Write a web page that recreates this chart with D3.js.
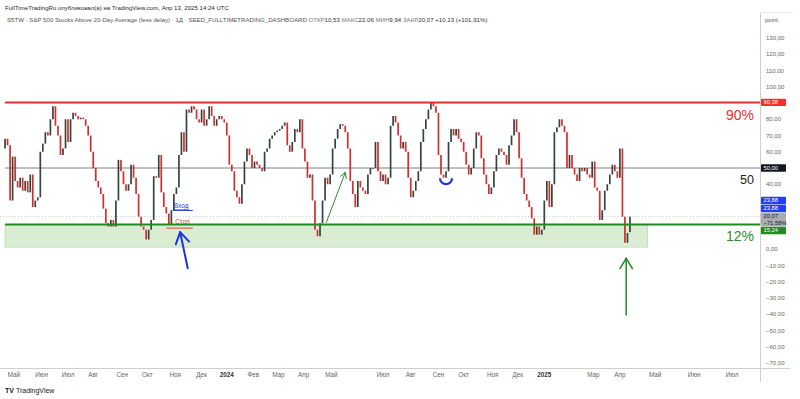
<!DOCTYPE html>
<html><head><meta charset="utf-8">
<script src="https://cdn.jsdelivr.net/npm/d3@7"></script>
<style>html,body{margin:0;padding:0;background:#fff;}svg{display:block;font-family:"Liberation Sans",Arial,sans-serif;}</style>
</head><body>
<svg id="c" width="800" height="399"></svg>
<script>
// ---- data (each bar = 2 trading sessions, last bar = 2025-04-11) ----
const barCloses = [
 68,64,30,57,42,38,44,36,42,35,46,
 26,30,32,60,65,72,70,80,88,76,70,58,62,80,66,80,84,82,80,81,80,76,70,60,50,42,38,34,
 25,16,14,18,14,30,55,48,40,36,40,52,44,34,20,14,12,6,12,18,45,44,58,35,26,22,15,24,34,38,58,72,
 60,86,84,88,86,80,78,86,76,80,88,82,76,80,82,80,78,70,52,48,36,32,28,40,54,62,58,50,54,52,
 50,48,60,62,68,70,72,73,74,76,78,64,60,66,74,72,80,62,54,44,46,30,12,8,16,30,
 44,40,46,62,68,74,77,76,72,62,42,34,26,42,38,36,34,46,50,50,66,48,42,46,40,44,76,82,78,70,
 62,66,60,44,32,36,42,48,66,74,80,86,90,88,84,58,46,44,48,66,74,70,74,68,66,60,52,46,50,62,72,70,56,46,
 40,34,38,48,58,62,60,58,52,64,70,80,72,56,44,34,30,26,19,9,14,9,12,30,42,26,40,72,75,80,76,
 72,50,58,50,46,42,50,48,50,46,44,54,38,36,18,24,36,40,46,52,48,44,62,20,4,10,20.07
];
const firstOpen = 62;
const lastBarOpen = 10.53;
const lastDate = "2025-04-11";
const holidays = ["2023-04-07","2023-05-29","2023-06-19","2023-07-04","2023-09-04","2023-11-23","2023-12-25",
 "2024-01-01","2024-01-15","2024-02-19","2024-03-29","2024-05-27","2024-06-19","2024-07-04","2024-09-02","2024-11-28","2024-12-25",
 "2025-01-01","2025-01-09","2025-01-20","2025-02-17"];
const monthLabels = ["Май","Июн","Июл","Авг","Сен","Окт","Ноя","Дек","2024","Фев","Мар","Апр","Май","Июл","Авг","Сен","Окт","Ноя","Дек","2025","Мар","Апр","Май","Июн","Июл"];
const monthDates = ["2023-05-01","2023-06-01","2023-07-01","2023-08-01","2023-09-01","2023-10-01","2023-11-01","2023-12-01","2024-01-01","2024-02-01","2024-03-01","2024-04-01","2024-05-01","2024-07-01","2024-08-01","2024-09-01","2024-10-01","2024-11-01","2024-12-01","2025-01-01","2025-03-01","2025-04-01","2025-05-01","2025-06-01","2025-07-01"];
const yTickValues = [130,120,110,100,90,80,70,60,50,40,30,20,10,0,-10,-20,-30,-40,-50,-60,-70];
const levelTop = 90.38, levelMid = 50, levelLow = 15.24, levelEntry = 23.88, levelStop = 13.0, lastClose = 20.07;
const lastChangeText = "−71,58%";
const zoneBottom = 1.3;
const headerLine1 = "FullTimeTradingRu опубликовал(а) на TradingView.com, Апр 13, 2025 14:24 UTC";
const headerTitle = "S5TW · S&P 500 Stocks Above 20-Day Average (less delay) · 1Д · SEED_FULLTIMETRADING_DASHBOARD";
const ohlcNames = ["ОТКР","МАКС","МИН","ЗАКР"];
const ohlcValues = ["10,53","22,06","9,94","20,07"];
const changeText = "+10,13 (+101,91%)";

// ---- trading calendar ----
const hol = new Set(holidays);
const days = [];
for (let d = new Date(Date.UTC(2023,2,1)); d.toISOString().slice(0,10) <= lastDate; d.setUTCDate(d.getUTCDate()+1)) {
  const wd = d.getUTCDay(), s = d.toISOString().slice(0,10);
  if (wd !== 0 && wd !== 6 && !hol.has(s)) days.push(s);
}
const lastIdx = days.length - 1;
function idxOf(s){
  if (s <= lastDate) return days.findIndex(d => d >= s);
  return lastIdx + (Date.parse(s) - Date.parse(lastDate)) / 864e5;
}
const bars = barCloses.map((c,i) => {
  const idx = lastIdx - 2*(barCloses.length-1-i);
  const open = i === barCloses.length-1 ? lastBarOpen : (i ? barCloses[i-1] : firstOpen);
  return {idx, open, close:c};
});

// ---- scales ----
const plotR = 760, plotB = 368;
const x = d3.scaleLinear().domain([lastIdx - 500, lastIdx + 103.2]).range([0, plotR]);
const y = d3.scaleLinear().domain([-70, 130]).range([363, 38]);
const fmt = v => d3.format(".2f")(Math.abs(v)).replace(".", ",");
const fmtS = v => (v < 0 ? "−" : "") + fmt(v);
const xd = s => x(idxOf(s));

const svg = d3.select("#c");
const x0 = x(bars[0].idx);

// header
svg.append("text").attr("x",5).attr("y",10).attr("font-size",6.1).attr("fill","#2a2a2a").text(headerLine1);
const t2 = svg.append("text").attr("x",7).attr("y",22).attr("font-size",6.1).attr("fill","#555");
t2.append("tspan").text(headerTitle + "  ");
ohlcNames.forEach((n,i)=>{
  t2.append("tspan").attr("fill","#777").text(n);
  t2.append("tspan").attr("fill","#333").text(ohlcValues[i] + "  ");
});
t2.append("tspan").attr("fill","#333").text(changeText);

// zone
svg.append("rect").attr("x", x0).attr("y", y(levelLow)).attr("width", xd("2025-04-25") - x0)
  .attr("height", y(zoneBottom) - y(levelLow)).attr("fill","#d9edd3").attr("stroke","#b9dcb0").attr("stroke-width",0.8);

// level lines
svg.append("line").attr("x1",x0).attr("x2",plotR).attr("y1",y(levelMid)).attr("y2",y(levelMid)).attr("stroke","#808080").attr("stroke-width",1);
svg.append("line").attr("x1",0).attr("x2",plotR).attr("y1",y(lastClose)).attr("y2",y(lastClose)).attr("stroke","#c9b3b3").attr("stroke-width",0.8).attr("stroke-dasharray","1,2");

// candles
const up = "#36463d", dn = "#d32f2f";
svg.append("g").selectAll("rect").data(bars).join("rect")
  .attr("x", d => x(d.idx) - 0.85).attr("width", 1.7)
  .attr("y", d => y(Math.max(d.open,d.close)))
  .attr("height", d => Math.max(0.8, Math.abs(y(d.open) - y(d.close))))
  .attr("fill", d => d.close >= d.open ? up : dn);

svg.append("line").attr("x1",x0).attr("x2",plotR).attr("y1",y(levelTop)).attr("y2",y(levelTop)).attr("stroke","#e8302e").attr("stroke-width",2);
svg.append("line").attr("x1",x0).attr("x2",plotR).attr("y1",y(levelLow)).attr("y2",y(levelLow)).attr("stroke","#1f8a1f").attr("stroke-width",2);

// entry / stop annotation
svg.append("line").attr("x1",xd("2023-10-30")).attr("x2",xd("2023-11-21")).attr("y1",y(levelEntry)).attr("y2",y(levelEntry)).attr("stroke","#2b44d6").attr("stroke-width",1);
svg.append("text").attr("x",xd("2023-10-31")).attr("y",y(levelEntry)-2).attr("font-size",6.5).attr("fill","#2b44d6").attr("text-decoration","underline").text("Вход");
svg.append("line").attr("x1",xd("2023-10-23")).attr("x2",xd("2023-11-21")).attr("y1",y(levelStop)).attr("y2",y(levelStop)).attr("stroke","#d04a2a").attr("stroke-width",1);
svg.append("text").attr("x",xd("2023-11-01")).attr("y",y(levelStop)-4).attr("font-size",6.5).attr("fill","#c0502a").text("Стоп");

function arrow(xa, ya, xb, yb, color, w, head){
  const g = svg.append("g").attr("stroke",color).attr("stroke-width",w).attr("fill","none").attr("stroke-linecap","round");
  g.append("line").attr("x1",xa).attr("y1",ya).attr("x2",xb).attr("y2",yb);
  const ang = Math.atan2(yb-ya, xb-xa);
  [-1,1].forEach(s=>{
    const a = ang + Math.PI + s*0.55;
    g.append("line").attr("x1",xb).attr("y1",yb).attr("x2",xb+head*Math.cos(a)).attr("y2",yb+head*Math.sin(a));
  });
}
arrow(xd("2023-11-15"), y(-11.7), xd("2023-11-07"), y(10.5), "#1c33e0", 2, 13);
arrow(xd("2024-04-25"), y(16.5), xd("2024-05-16"), y(47.2), "#2e8b2e", 1, 6);
arrow(xd("2025-04-08"), y(-40.5), xd("2025-04-08"), y(-5.6), "#1f8a1f", 1.5, 12);

// blue U
{
  const cx = xd("2024-09-11"), r = 6, cy = y(41.5);
  svg.append("path").attr("d", `M${cx-r},${cy-r*0.6} A${r},${r} 0 0 0 ${cx+r},${cy-r*0.6}`)
    .attr("fill","none").attr("stroke","#1c33e0").attr("stroke-width",2.2);
}

// big labels
svg.append("text").attr("x",754).attr("y",y(levelTop)+18).attr("text-anchor","end").attr("font-size",14).attr("fill","#e8302e").text("90%");
svg.append("text").attr("x",754).attr("y",y(levelMid)+16).attr("text-anchor","end").attr("font-size",12.5).attr("fill","#222").text("50");
svg.append("text").attr("x",754).attr("y",y(levelLow)+17).attr("text-anchor","end").attr("font-size",14).attr("fill","#2e8b2e").text("12%");

// axes lines
svg.append("line").attr("x1",0).attr("x2",790).attr("y1",plotB+0.5).attr("y2",plotB+0.5).attr("stroke","#cfcfcf");
svg.append("line").attr("x1",plotR+0.5).attr("x2",plotR+0.5).attr("y1",12).attr("y2",382).attr("stroke","#cfcfcf");
svg.append("line").attr("x1",plotR).attr("x2",793).attr("y1",12.5).attr("y2",12.5).attr("stroke","#ececec");
svg.append("text").attr("x",765).attr("y",22).attr("font-size",6).attr("fill","#555").text("point");

// price labels with stacking
const axisLabels = [
  {v:levelTop, lines:[fmtS(levelTop)], fill:"#f0302e", color:"#fff"},
  {v:levelMid, lines:[fmtS(levelMid)], fill:"#131722", color:"#fff"},
  {v:levelEntry, lines:[fmtS(levelEntry)], fill:"#2240f0", color:"#fff"},
  {v:levelEntry, lines:[fmtS(levelEntry)], fill:"#2240f0", color:"#fff"},
  {v:lastClose, lines:[fmtS(lastClose), lastChangeText], fill:"#a9abb3", color:"#1a1f3a"},
  {v:levelLow, lines:[fmtS(levelLow)], fill:"#1e8c1e", color:"#fff"}
];
let items = axisLabels.map(d=>({...d, h: d.lines.length===1 ? 8 : 14, ideal: y(d.v)})).sort((a,b)=>a.ideal-b.ideal);
let clusters = items.map(d=>({items:[d], h:d.h, c:d.ideal}));
let changed = true;
while (changed) {
  changed = false;
  for (let i=0;i<clusters.length-1;i++){
    const a=clusters[i], b=clusters[i+1];
    if (a.c + a.h/2 > b.c - b.h/2) {
      const it = a.items.concat(b.items);
      clusters.splice(i,2,{items:it, h:a.h+b.h, c:d3.mean(it,d=>d.ideal)});
      changed = true; break;
    }
  }
}
clusters.forEach(cl=>{ let top = cl.c - cl.h/2; cl.items.forEach(d=>{ d.top = top; top += d.h; }); });

// y ticks (hidden under labels)
const visibleTicks = yTickValues.filter(t => !items.some(d => y(t) > d.top - 3 && y(t) < d.top + d.h + 3));
svg.append("g").selectAll("text").data(visibleTicks).join("text")
  .attr("x",766).attr("y",t=>y(t)+2).attr("font-size",6).attr("fill","#666").text(fmtS);

const lg = svg.append("g");
items.forEach(d=>{
  lg.append("rect").attr("x",plotR+1).attr("y",d.top+0.3).attr("width",25).attr("height",d.h-0.6).attr("fill",d.fill).attr("rx",0.8);
  d.lines.forEach((l,i)=>lg.append("text").attr("x",plotR+3.5).attr("y",d.top+5.8+i*6.5).attr("font-size",5.8).attr("fill",d.color).text(l));
});

// month labels
svg.append("g").selectAll("text").data(monthLabels).join("text")
  .attr("x",(d,i)=>xd(monthDates[i])).attr("y",377).attr("text-anchor","middle")
  .attr("font-size",6.3).attr("font-weight",d=>/^\d/.test(d)?"bold":"normal")
  .attr("fill",d=>/^\d/.test(d)?"#333":"#666").text(d=>d);

// logo
const lgT = svg.append("text").attr("x",5).attr("y",393).attr("font-size",7).attr("fill","#131722");
lgT.append("tspan").attr("font-weight","bold").attr("font-size",7).text("TV ");
lgT.append("tspan").text("TradingView");
</script>
</body></html>
